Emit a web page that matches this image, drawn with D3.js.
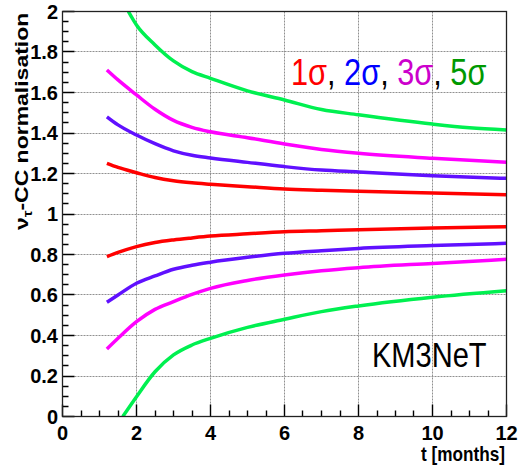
<!DOCTYPE html>
<html>
<head>
<meta charset="utf-8">
<script src="https://cdn.jsdelivr.net/npm/d3@7"></script>
<style>
  body { margin: 0; background: #fff; }
  svg { display: block; }
  text { font-family: "Liberation Sans", Arial, sans-serif; }
</style>
</head>
<body>
<svg id="chart" width="518" height="466"></svg>
<script>
const months = [1.2, 1.5, 2, 2.5, 3, 3.5, 4, 5, 6, 7, 8, 10, 12];

const sigma1Up = [1.25, 1.23, 1.204, 1.18, 1.164, 1.154, 1.147, 1.135, 1.123, 1.117, 1.112, 1.104, 1.095];
const sigma1Lo = [0.789, 0.81, 0.839, 0.859, 0.872, 0.882, 0.891, 0.902, 0.912, 0.917, 0.922, 0.931, 0.937];
const sigma2Up = [1.48, 1.44, 1.39, 1.347, 1.312, 1.29, 1.277, 1.255, 1.234, 1.217, 1.208, 1.189, 1.176];
const sigma2Lo = [0.564, 0.60, 0.658, 0.694, 0.727, 0.747, 0.762, 0.786, 0.806, 0.819, 0.83, 0.844, 0.855];
const sigma3Up = [1.711, 1.662, 1.588, 1.517, 1.462, 1.428, 1.406, 1.377, 1.346, 1.319, 1.300, 1.275, 1.255];
const sigma3Lo = [0.333, 0.386, 0.468, 0.529, 0.567, 0.603, 0.633, 0.672, 0.699, 0.720, 0.735, 0.756, 0.776];

// 5 sigma band leaves the frame, so it has its own months
const months5Up = [1.78, 2, 2.5, 3, 3.5, 4, 5, 6, 7, 8, 10, 11, 12];
const sigma5Up = [2.0, 1.933, 1.835, 1.756, 1.703, 1.670, 1.608, 1.563, 1.516, 1.490, 1.444, 1.426, 1.415];
const months5Lo = [1.63, 2, 2.5, 3, 3.5, 4, 5, 6, 7, 8, 10, 12];
const sigma5Lo = [0, 0.098, 0.221, 0.304, 0.353, 0.386, 0.44, 0.48, 0.518, 0.546, 0.589, 0.621];

const xTicks = [0, 2, 4, 6, 8, 10, 12];
const yTicks = [0, 0.2, 0.4, 0.6, 0.8, 1, 1.2, 1.4, 1.6, 1.8, 2];

const legendParts = [
  { label: "1σ", color: "#ff0000" }, { label: ", ", color: "#000" },
  { label: "2σ", color: "#0000ff" }, { label: ", ", color: "#000" },
  { label: "3σ", color: "#cc00cc" }, { label: ", ", color: "#000" },
  { label: "5σ", color: "#009900" }
];

const curves = [
  { t: months, v: sigma1Up, color: "#ff0000" },
  { t: months, v: sigma1Lo, color: "#ff0000" },
  { t: months, v: sigma2Up, color: "#6010ff" },
  { t: months, v: sigma2Lo, color: "#6010ff" },
  { t: months, v: sigma3Up, color: "#ff00ff" },
  { t: months, v: sigma3Lo, color: "#ff00ff" },
  { t: months5Up, v: sigma5Up, color: "#00f050" },
  { t: months5Lo, v: sigma5Lo, color: "#00f050" }
];

const plotLeft = 62.5, plotRight = 506.5, plotTop = 11.5, plotBottom = 416.5;

const svg = d3.select("#chart");
const x = d3.scaleLinear().domain([0, 12]).range([plotLeft, plotRight]);
const y = d3.scaleLinear().domain([0, 2]).range([plotBottom, plotTop]);
// snap hairlines to the pixel grid so the dots stay crisp
const px = v => Math.round(v - 0.5) + 0.5;

svg.append("defs").append("clipPath").attr("id", "plotclip")
  .append("rect")
  .attr("x", plotLeft).attr("y", plotTop)
  .attr("width", plotRight - plotLeft).attr("height", plotBottom - plotTop);

// dotted grid at the major ticks, drawn as paths
const grid = svg.append("g")
  .attr("fill", "none")
  .attr("stroke", "#909090")
  .attr("stroke-dasharray", "2,1")
  .attr("stroke-width", 1);

grid.selectAll(".vg")
  .data(xTicks.slice(1, -1))
  .join("path")
  .attr("class", "vg")
  .attr("d", d => `M${px(x(d))},${plotTop}V${plotBottom}`);

grid.selectAll(".hg")
  .data(yTicks.slice(1, -1))
  .join("path")
  .attr("class", "hg")
  .attr("d", d => `M${plotLeft},${px(y(d))}H${plotRight}`);

// curves
const line = d3.line()
  .x(d => x(d[0]))
  .y(d => y(d[1]))
  .curve(d3.curveMonotoneX);

svg.append("g")
  .attr("clip-path", "url(#plotclip)")
  .selectAll("path")
  .data(curves)
  .join("path")
  .attr("d", c => line(c.t.map((t, i) => [t, c.v[i]])))
  .attr("fill", "none")
  .attr("stroke", c => c.color)
  .attr("stroke-width", 3.5)
  .attr("stroke-linejoin", "round");

// tick marks, pointing into the frame: major 12px, minor 6px
const xTickVals = d3.range(0, 24.5, 1).map(i => i / 2);
const yTickVals = d3.range(0, 40.5, 1).map(i => i / 20);

const xTickPath = xTickVals
  .map((d, i) => `M${px(x(d))},${plotBottom}v${i % 4 === 0 ? -12 : -6}`)
  .join("");
const yTickPath = yTickVals
  .map((d, i) => `M${plotLeft},${px(y(d))}h${i % 4 === 0 ? 12 : 6}`)
  .join("");

svg.append("g")
  .attr("fill", "none")
  .attr("stroke", "#000")
  .attr("stroke-width", 1.4)
  .selectAll("path")
  .data([xTickPath, yTickPath])
  .join("path")
  .attr("d", d => d);

// frame
svg.append("rect")
  .attr("x", plotLeft).attr("y", plotTop)
  .attr("width", plotRight - plotLeft).attr("height", plotBottom - plotTop)
  .attr("fill", "none")
  .attr("stroke", "#222")
  .attr("stroke-width", 1.3);

// tick labels
svg.append("g").selectAll("text")
  .data(xTicks)
  .join("text")
  .attr("x", d => x(d))
  .attr("y", 440)
  .attr("text-anchor", "middle")
  .attr("font-size", 20)
  .attr("font-weight", "bold")
  .text(d => d);

svg.append("g").selectAll("text")
  .data(yTicks)
  .join("text")
  .attr("x", 58)
  .attr("y", d => y(d) + 7)
  .attr("text-anchor", "end")
  .attr("font-size", 20)
  .attr("font-weight", "bold")
  .text(d => d3.format("~g")(d));

// axis titles
svg.append("text")
  .attr("transform", "translate(505,461) scale(0.86,1)")
  .attr("text-anchor", "end")
  .attr("font-size", 20)
  .attr("font-weight", "bold")
  .text("t [months]");

const yTitle = svg.append("text")
  .attr("transform", "translate(27.5,12.7) rotate(-90) scale(1,0.82)")
  .attr("text-anchor", "end")
  .attr("font-size", 23)
  .attr("font-weight", "bold");
yTitle.append("tspan").text("ν");
yTitle.append("tspan").attr("font-size", 15).attr("dy", 5).text("τ");
yTitle.append("tspan").attr("dy", -5).text("-CC normalisation");

// legend text
const legend = svg.append("text")
  .attr("transform", "translate(291,85) scale(0.83,1)")
  .attr("font-size", 37);
legend.selectAll("tspan")
  .data(legendParts)
  .join("tspan")
  .attr("fill", d => d.color)
  .text(d => d.label);

svg.append("text")
  .attr("transform", "translate(372,366.5) scale(0.83,1)")
  .attr("font-size", 35)
  .text("KM3NeT");
</script>
</body>
</html>
